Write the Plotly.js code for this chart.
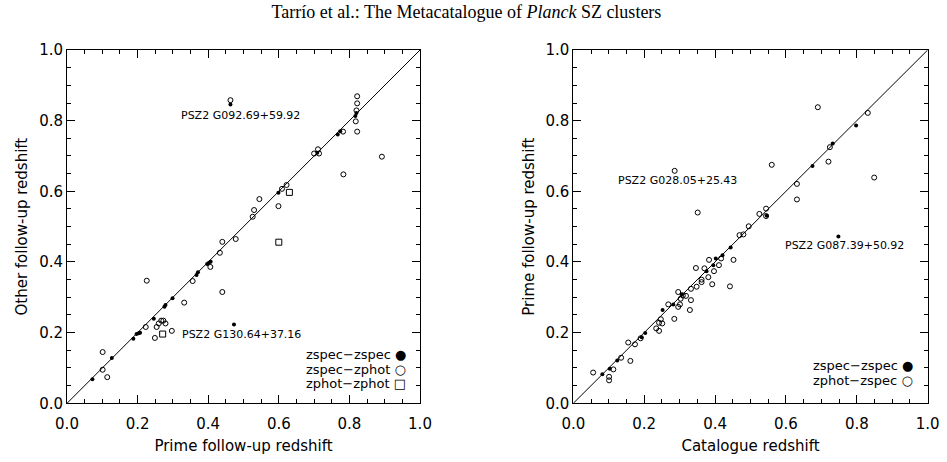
<!DOCTYPE html>
<html>
<head>
<meta charset="utf-8">
<script src="https://cdn.plot.ly/plotly-3.0.1.min.js"></script>
<style>
  html, body { margin: 0; padding: 0; background: #fff; }
  #chart { width: 947px; height: 462px; }
</style>
</head>
<body>
<div id="chart"></div>
<script>
// Left panel: prime follow-up redshift vs other follow-up redshift
const leftSpecSpecX = [0.072, 0.127, 0.188, 0.197, 0.203, 0.207, 0.246, 0.276, 0.279, 0.299, 0.367, 0.371, 0.397, 0.402, 0.407, 0.473, 0.463, 0.599, 0.709, 0.767, 0.774, 0.817, 0.820];
const leftSpecSpecY = [0.068, 0.128, 0.183, 0.196, 0.198, 0.200, 0.239, 0.273, 0.278, 0.297, 0.363, 0.371, 0.394, 0.398, 0.401, 0.223, 0.846, 0.596, 0.709, 0.761, 0.770, 0.813, 0.822];

const leftSpecPhotX = [0.101, 0.101, 0.114, 0.226, 0.223, 0.249, 0.254, 0.260, 0.267, 0.273, 0.279, 0.297, 0.332, 0.356, 0.406, 0.440, 0.433, 0.440, 0.478, 0.526, 0.530, 0.545, 0.599, 0.609, 0.622, 0.700, 0.711, 0.714, 0.782, 0.783, 0.822, 0.818, 0.820, 0.822, 0.822, 0.892, 0.463];
const leftSpecPhotY = [0.145, 0.095, 0.074, 0.347, 0.216, 0.185, 0.216, 0.226, 0.234, 0.234, 0.226, 0.205, 0.285, 0.346, 0.386, 0.315, 0.426, 0.457, 0.465, 0.528, 0.547, 0.578, 0.558, 0.607, 0.618, 0.707, 0.719, 0.707, 0.769, 0.648, 0.769, 0.798, 0.829, 0.849, 0.869, 0.698, 0.858];

const leftPhotPhotX = [0.271, 0.600, 0.630];
const leftPhotPhotY = [0.196, 0.456, 0.597];

// Right panel: catalogue redshift vs prime follow-up redshift
const rightSpecSpecX = [0.082, 0.103, 0.124, 0.193, 0.203, 0.252, 0.282, 0.306, 0.376, 0.395, 0.402, 0.421, 0.444, 0.546, 0.675, 0.732, 0.798, 0.748];
const rightSpecSpecY = [0.082, 0.098, 0.121, 0.187, 0.199, 0.264, 0.280, 0.309, 0.374, 0.391, 0.410, 0.419, 0.441, 0.531, 0.672, 0.735, 0.786, 0.472];

const rightPhotSpecX = [0.056, 0.101, 0.101, 0.113, 0.135, 0.161, 0.155, 0.174, 0.190, 0.234, 0.242, 0.242, 0.251, 0.247, 0.285, 0.268, 0.296, 0.301, 0.329, 0.332, 0.303, 0.296, 0.309, 0.318, 0.332, 0.348, 0.362, 0.362, 0.392, 0.442, 0.381, 0.346, 0.370, 0.397, 0.411, 0.383, 0.417, 0.452, 0.469, 0.480, 0.495, 0.525, 0.544, 0.544, 0.351, 0.286, 0.560, 0.631, 0.631, 0.720, 0.724, 0.690, 0.831, 0.849];
const rightPhotSpecY = [0.087, 0.075, 0.065, 0.096, 0.129, 0.120, 0.172, 0.167, 0.184, 0.212, 0.205, 0.228, 0.226, 0.238, 0.239, 0.280, 0.273, 0.280, 0.264, 0.292, 0.296, 0.315, 0.305, 0.304, 0.324, 0.330, 0.343, 0.350, 0.337, 0.331, 0.357, 0.383, 0.382, 0.374, 0.391, 0.406, 0.410, 0.406, 0.476, 0.478, 0.501, 0.536, 0.530, 0.551, 0.540, 0.658, 0.675, 0.621, 0.577, 0.684, 0.725, 0.838, 0.822, 0.639];

// One-to-one reference line
const diagonal = [0, 1];

const ink = '#000';
const sans = 'DejaVu Sans, sans-serif';

const dotMarker = {symbol: 'circle', size: 4, color: ink};
const ringMarker = {symbol: 'circle-open', size: 5, color: ink, line: {width: 1, color: ink}};
const boxMarker = {symbol: 'square-open', size: 6, color: ink, line: {width: 1, color: ink}};

const traces = [
  {x: diagonal, y: diagonal, xaxis: 'x', yaxis: 'y', mode: 'lines', line: {color: ink, width: 1}, hoverinfo: 'skip'},
  {x: leftSpecPhotX, y: leftSpecPhotY, xaxis: 'x', yaxis: 'y', mode: 'markers', marker: ringMarker, name: 'zspec-zphot'},
  {x: leftPhotPhotX, y: leftPhotPhotY, xaxis: 'x', yaxis: 'y', mode: 'markers', marker: boxMarker, name: 'zphot-zphot'},
  {x: leftSpecSpecX, y: leftSpecSpecY, xaxis: 'x', yaxis: 'y', mode: 'markers', marker: dotMarker, name: 'zspec-zspec'},
  {x: diagonal, y: diagonal, xaxis: 'x2', yaxis: 'y2', mode: 'lines', line: {color: ink, width: 1}, hoverinfo: 'skip'},
  {x: rightPhotSpecX, y: rightPhotSpecY, xaxis: 'x2', yaxis: 'y2', mode: 'markers', marker: ringMarker, name: 'zphot-zspec'},
  {x: rightSpecSpecX, y: rightSpecSpecY, xaxis: 'x2', yaxis: 'y2', mode: 'markers', marker: dotMarker, name: 'zspec-zspec'}
];

function axis(domain, anchor, titleText, isY) {
  return {
    domain: domain,
    anchor: anchor,
    range: [0, 1],
    dtick: 0.2,
    tick0: 0,
    tickformat: '.1f',
    ticks: 'inside',
    ticklen: 8,
    tickwidth: 1,
    tickcolor: ink,
    ticklabelstandoff: isY ? 0 : 7,
    minor: {dtick: 0.05, ticks: 'inside', ticklen: 4, tickwidth: 1, tickcolor: ink},
    showline: true,
    linecolor: ink,
    linewidth: 1,
    mirror: 'ticks',
    showgrid: false,
    zeroline: false,
    tickfont: {family: sans, size: 15, color: ink},
    title: {text: titleText, font: {family: sans, size: 15, color: ink}, standoff: isY ? 7 : 8},
    fixedrange: true
  };
}

const yDom = [58.7 / 462, 412 / 462];

const label = (x, y, text, xref, yref) => ({
  x: x, y: y, xref: xref, yref: yref, text: text, showarrow: false,
  xanchor: 'left', yanchor: 'middle', font: {family: sans, size: 11, color: ink}
});
const legendLine = (x, y, text, xref, yref) => ({
  x: x, y: y, xref: xref, yref: yref, text: text, showarrow: false,
  xanchor: 'right', yanchor: 'middle', borderpad: 0,
  font: {family: sans, size: 13, color: ink}
});

const layout = {
  width: 947,
  height: 462,
  margin: {l: 0, r: 0, t: 0, b: 0},
  paper_bgcolor: '#fff',
  plot_bgcolor: '#fff',
  showlegend: false,
  title: {
    text: 'Tarrío et al.: The Metacatalogue of <i>Planck</i> SZ clusters',
    font: {family: 'Liberation Serif, Times New Roman, serif', size: 18, color: ink},
    x: 0.4926, xref: 'paper', xanchor: 'center',
    y: 1 - 12 / 462, yref: 'container', yanchor: 'middle'
  },
  xaxis: axis([67 / 947, 420 / 947], 'y', 'Prime follow-up redshift', false),
  yaxis: axis(yDom, 'x', 'Other follow-up redshift', true),
  xaxis2: axis([573.3 / 947, 927.7 / 947], 'y2', 'Catalogue redshift', false),
  yaxis2: axis(yDom, 'x2', 'Prime follow-up redshift', true),
  annotations: [
    label(0.317, 0.815, 'PSZ2 G092.69+59.92', 'x', 'y'),
    label(0.320, 0.195, 'PSZ2 G130.64+37.16', 'x', 'y'),
    legendLine(0.962, 0.138, 'zspec−zspec ●', 'x', 'y'),
    legendLine(0.962, 0.097, 'zspec−zphot ○', 'x', 'y'),
    legendLine(0.962, 0.056, 'zphot−zphot □', 'x', 'y'),
    label(0.120, 0.630, 'PSZ2 G028.05+25.43', 'x2', 'y2'),
    label(0.591, 0.448, 'PSZ2 G087.39+50.92', 'x2', 'y2'),
    legendLine(0.962, 0.106, 'zspec−zspec ●', 'x2', 'y2'),
    legendLine(0.962, 0.065, 'zphot−zspec ○', 'x2', 'y2')
  ]
};

Plotly.newPlot('chart', traces, layout, {staticPlot: true, displayModeBar: false});
</script>
</body>
</html>
